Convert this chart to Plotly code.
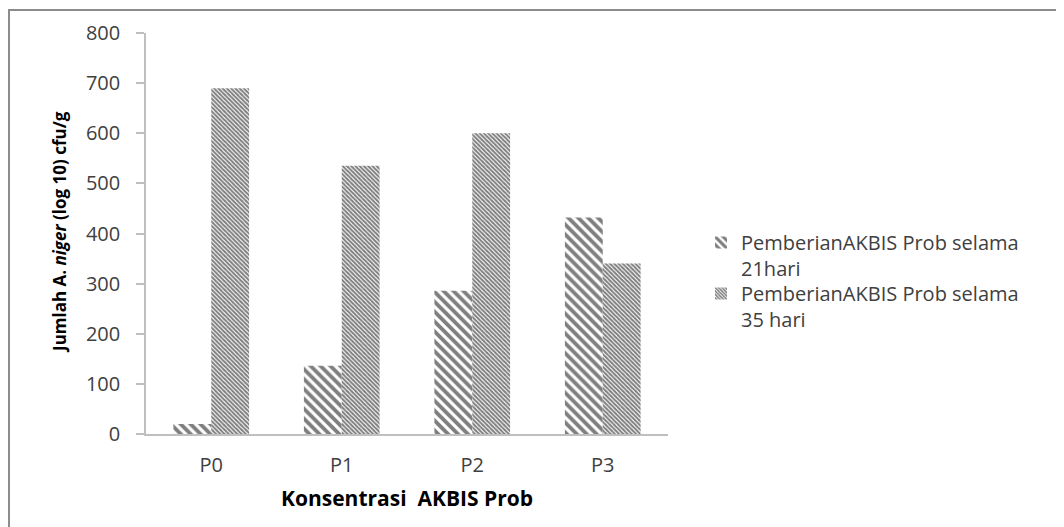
import plotly.graph_objects as go

categories = ["P0", "P1", "P2", "P3"]
hari21 = [20, 136, 286, 432]
hari35 = [690, 535, 600, 340]
series_names = ["PemberianAKBIS Prob selama<br>21hari", "PemberianAKBIS Prob selama<br>35 hari"]
y_ticks = [0, 100, 200, 300, 400, 500, 600, 700, 800]

OFF = 8  # default page body margin
W, H = 1064 - OFF, 527 - OFF
# target screen coordinates of plot area
SX0, SX1, SY0, SY1 = 146, 668, 33, 434
L, R = SX0 - OFF, W - (SX1 - OFF)
T, B = SY0 - OFF, H - (SY1 - OFF)
PW, PH = W - L - R, H - T - B

def px_x(p):
    return (p - OFF - L) / PW

def px_y(p):
    return (H - B - (p - OFF)) / PH

FONT = "Open Sans"
TXT = "#404040"
AX = "#bfbfbf"

fig = go.Figure()
fig.add_trace(go.Bar(
    x=categories, y=hari21, name=series_names[0], legend="legend",
    marker=dict(color="white", line=dict(width=0),
                pattern=dict(shape="\\", size=7, solidity=0.55, fgcolor="black", bgcolor="white", fillmode="overlay")),
))
fig.add_trace(go.Bar(
    x=categories, y=hari35, name=series_names[1], legend="legend2",
    marker=dict(color="white", line=dict(width=0),
                pattern=dict(shape="\\", size=3, solidity=0.65, fgcolor="black", bgcolor="white", fillmode="overlay")),
))

leg_common = dict(x=px_x(701), xanchor="left", yanchor="top",
                  font=dict(family=FONT, size=20, color=TXT), valign="top",
                  bgcolor="rgba(0,0,0,0)", itemwidth=30)

fig.update_layout(
    width=W, height=H,
    margin=dict(l=L, r=R, t=T, b=B, autoexpand=False),
    paper_bgcolor="white", plot_bgcolor="white",
    barmode="group", bargap=0.42, bargroupgap=0,
    font=dict(family=FONT, color=TXT, size=20),
    showlegend=True,
    legend=dict(y=px_y(223), **leg_common),
    legend2=dict(y=px_y(274), **leg_common),
    xaxis=dict(showline=True, linecolor=AX, linewidth=1.5, ticks="", showgrid=False,
               tickfont=dict(family=FONT, size=20, color=TXT), ticklabelstandoff=12),
    yaxis=dict(range=[0, 800], tickvals=y_ticks, showline=True, linecolor=AX, linewidth=1.5,
               ticks="outside", ticklen=8, tickcolor=AX, tickwidth=1.5, showgrid=False, zeroline=False,
               tickfont=dict(family=FONT, size=20, color=TXT), ticklabelstandoff=12),
)

fig.add_annotation(text="Jumlah A. <i>niger</i> (log 10) cfu/g", xref="paper", yref="paper",
                   x=px_x(60), y=px_y(232), xanchor="center", yanchor="middle",
                   textangle=-90, showarrow=False,
                   font=dict(family=FONT, size=17, color="black", weight="bold"))
fig.add_annotation(text="Konsentrasi  AKBIS Prob", xref="paper", yref="paper",
                   x=px_x(407), y=px_y(498), xanchor="center", yanchor="middle",
                   showarrow=False,
                   font=dict(family=FONT, size=21, color="black", weight="bold"))

fig.add_shape(type="rect", xref="paper", yref="paper",
              x0=px_x(9), x1=px_x(1080), y0=px_y(545), y1=px_y(10),
              line=dict(color="#8c8c8c", width=2), fillcolor="rgba(0,0,0,0)", layer="below")

fig.write_html("out.html")
